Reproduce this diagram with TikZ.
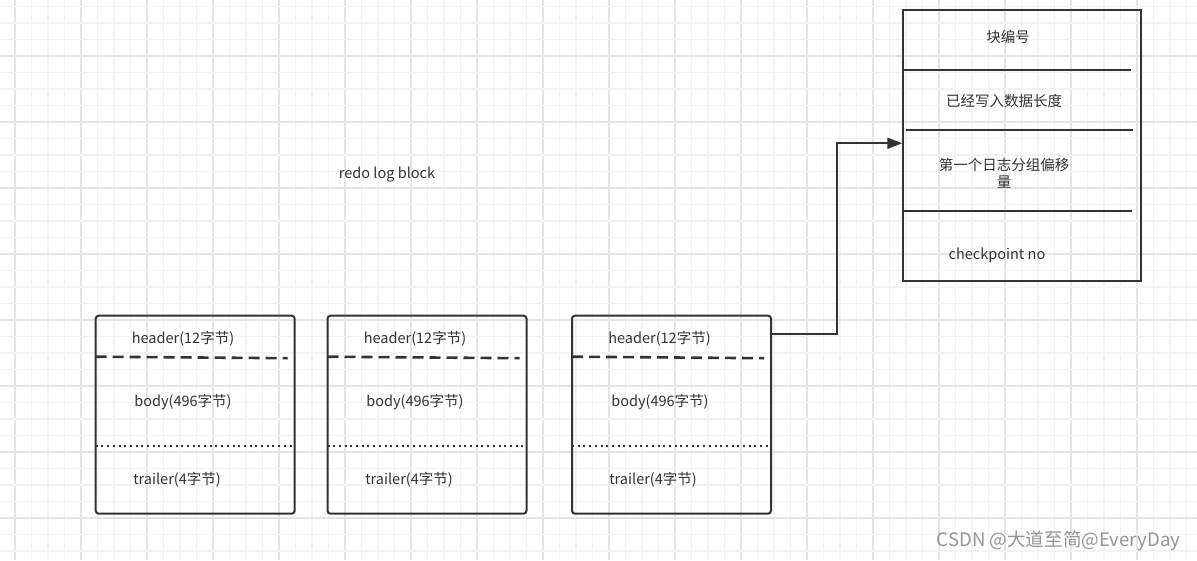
\documentclass[tikz,border=0pt]{standalone}
\usepackage{fontspec}
\setmainfont{Noto Sans CJK SC}
\usetikzlibrary{arrows.meta,calc}
\definecolor{ink}{HTML}{333333}
\definecolor{gmajor}{HTML}{E4E4E4}
\definecolor{gminor}{HTML}{F3F3F3}
\definecolor{wm}{RGB}{150,150,150}
\tikzset{
  blk/.style={draw=ink, line width=2pt, rounded corners=3pt, inner sep=0pt, minimum width=199pt, minimum height=198pt},
  rbox/.style={draw=ink, line width=2pt, inner sep=0pt, minimum width=237.4pt, minimum height=270.7pt},
  lbl/.style={text=ink, font=\fontsize{14.5}{17}\selectfont, inner sep=0pt, anchor=center},
  sep/.style={draw=ink, line width=2pt},
  hdash/.style={draw=ink, line width=2.6pt, dash pattern=on 11pt off 6pt},
  tdot/.style={draw=ink, line width=2pt, dash pattern=on 2pt off 3.7pt},
  conn/.style={draw=ink, line width=2pt, -{Triangle[length=15pt,width=11pt]}},
}
\begin{document}
\begin{tikzpicture}[x=1pt,y=-1pt]
\useasboundingbox (0,0) rectangle (1197,560);
\fill[white] (0,0) rectangle (1197,560);
% grid
\foreach \k in {0,...,71} {
  \pgfmathtruncatemacro{\m}{mod(\k,4)}
  \pgfmathsetmacro{\xx}{15+16.5*\k}
  \ifnum\m=0 \draw[gmajor,line width=1.1pt] (\xx,0) -- (\xx,560);
  \else \draw[gminor,line width=1.1pt] (\xx,0) -- (\xx,560); \fi
}
\foreach \k in {-3,...,30} {
  \pgfmathtruncatemacro{\m}{mod(\k+12,4)}
  \pgfmathsetmacro{\yy}{56+16.5*\k}
  \ifnum\m=0 \draw[gmajor,line width=1.1pt] (0,\yy) -- (1197,\yy);
  \else \draw[gminor,line width=1.1pt] (0,\yy) -- (1197,\yy); \fi
}
% title
\node[lbl] (title) at (387,175) {redo log block};
% blocks
\node[blk] (b1) at (195.2,414.7) {};
\node[blk] (b2) at (427,414.7) {};
\node[blk] (b3) at (671.5,414.7) {};
% separators
\draw[hdash] ($(b1.north west)+(1,42)$) -- ($(b1.north west)+(193,43.5)$);
\draw[tdot] ($(b1.north west)+(1,131)$) -- ($(b1.north east)+(-1,131)$);
\draw[hdash] ($(b2.north west)+(1,42)$) -- ($(b2.north west)+(193,43.5)$);
\draw[tdot] ($(b2.north west)+(1,131)$) -- ($(b2.north east)+(-1,131)$);
\draw[hdash] ($(b3.north west)+(1,42)$) -- ($(b3.north west)+(193,43.5)$);
\draw[tdot] ($(b3.north west)+(1,131)$) -- ($(b3.north east)+(-1,131)$);
% labels
\node[lbl] (h1) at (183,339) {header(12字节)};
\node[lbl] (d1) at (183,402) {body(496字节)};
\node[lbl] (t1) at (177,480) {trailer(4字节)};
\node[lbl] (h2) at (415,339) {header(12字节)};
\node[lbl] (d2) at (415,402) {body(496字节)};
\node[lbl] (t2) at (409,480) {trailer(4字节)};
\node[lbl] (h3) at (659.5,339) {header(12字节)};
\node[lbl] (d3) at (660,402) {body(496字节)};
\node[lbl] (t3) at (653,480) {trailer(4字节)};
% right box
\node[rbox] (r) at (1022,145.3) {};
\draw[sep] ($(r.north west)+(0,60.7)$) -- ($(r.north west)+(228.4,60.7)$);
\draw[sep] ($(r.north west)+(3.4,120.7)$) -- ($(r.north west)+(230.7,120.7)$);
\draw[sep] ($(r.north west)+(1.7,201.7)$) -- ($(r.north west)+(229.7,201.7)$);
\node[lbl] (r1) at (1008,37) {块编号};
\node[lbl] (r2) at (1004,101) {已经写入数据长度};
\node[lbl, align=center] (r3) at (1004,173.5) {第一个日志分组偏移\\量};
\node[lbl] (r4) at (997,255) {checkpoint no};
% connector
\coordinate (c0) at ($(b3.north east)+(0,19.3)$);
\coordinate (c1) at ($(r.north west)+(0,134.3)$);
\draw[conn] (c0) -- (c0 -| 837,0) -- (837,0 |- c1) -- (c1);
% watermark
\node[text=wm, font=\fontsize{18.6}{22}\selectfont, inner sep=0pt] (wmk) at (1058.5,541) {CSDN @大道至简@EveryDay};
\end{tikzpicture}
\end{document}
